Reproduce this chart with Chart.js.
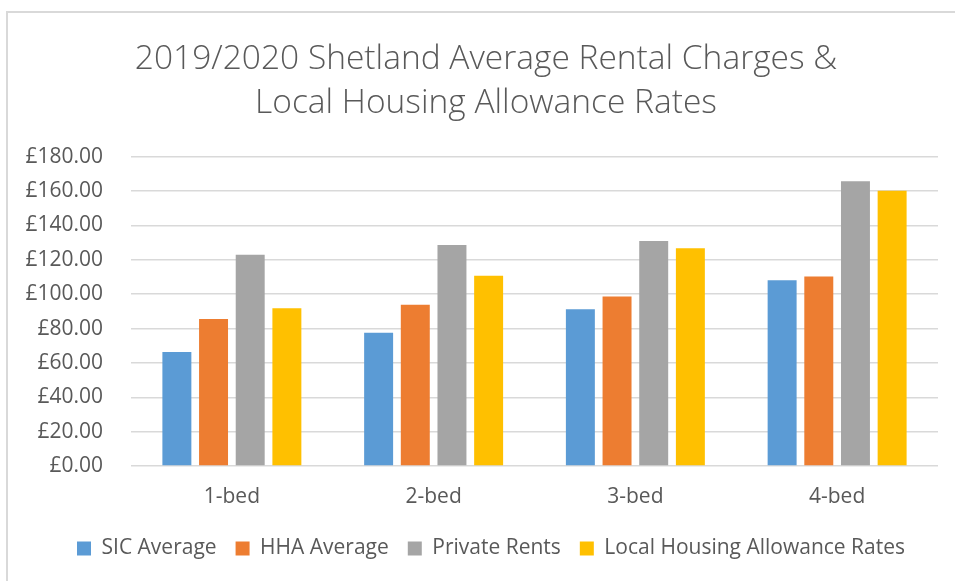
<!DOCTYPE html>
<html>
<head>
<meta charset="utf-8">
<script src="https://cdn.jsdelivr.net/npm/chart.js@4"></script>
<style>
  html, body { margin: 0; padding: 0; background: #fff; overflow: hidden; }
  #frame { position: absolute; left: 6px; top: 11px; width: 980px; height: 600px; border: 2px solid #d9d9d9; }
  #myChart { position: absolute; left: 0; top: 0; }
</style>
</head>
<body>
<div id="frame"></div>
<canvas id="myChart" width="955" height="581"></canvas>
<script>
var categories = ['1-bed', '2-bed', '3-bed', '4-bed'];
var sicAverage = [66.4, 77.5, 91.3, 108.1];
var hhaAverage = [85.6, 93.8, 98.6, 110.3];
var privateRents = [122.9, 128.7, 131.0, 165.8];
var lhaRates = [91.8, 110.7, 126.8, 160.2];
var yTicks = [0, 20, 40, 60, 80, 100, 120, 140, 160, 180];

var textColour = '#595959';
var fontName = '"Open Sans", "Noto Sans", sans-serif';

// title and legend sit centred on the whole frame, not the canvas, so nudge them right
var shiftBoxes = {
    id: 'shiftBoxes',
    afterLayout: function (chart) {
        chart.titleBlock.left += 17;
        chart.titleBlock.right += 17;
        chart.legend.left += 22;
        chart.legend.right += 22;
    }
};

var ctx = document.getElementById('myChart').getContext('2d');
var myChart = new Chart(ctx, {
    type: 'bar',
    data: {
        labels: categories,
        datasets: [{
            label: 'SIC Average',
            data: sicAverage,
            backgroundColor: '#5b9bd5'
        }, {
            label: 'HHA Average',
            data: hhaAverage,
            backgroundColor: '#ed7d31'
        }, {
            label: 'Private Rents',
            data: privateRents,
            backgroundColor: '#a5a5a5'
        }, {
            label: 'Local Housing Allowance Rates',
            data: lhaRates,
            backgroundColor: '#ffc000'
        }]
    },
    options: {
        responsive: false,
        animation: false,
        barPercentage: 0.79,
        categoryPercentage: 0.727,
        layout: {
            padding: { left: 0, right: 17, top: 0, bottom: 12 }
        },
        plugins: {
            title: {
                display: true,
                text: ['2019/2020 Shetland Average Rental Charges &', 'Local Housing Allowance Rates'],
                color: textColour,
                font: { family: fontName, size: 33.5, weight: '300', lineHeight: 1.31 },
                padding: { top: 38, bottom: 31 }
            },
            legend: {
                position: 'bottom',
                labels: {
                    color: textColour,
                    font: { family: fontName, size: 21 },
                    boxWidth: 14,
                    boxHeight: 14,
                    padding: 19
                }
            },
            tooltip: { enabled: false }
        },
        scales: {
            x: {
                grid: { display: false },
                border: { display: false },
                ticks: {
                    color: textColour,
                    font: { family: fontName, size: 21 },
                    padding: 10
                },
                afterFit: function (scale) {
                    scale.height = 53;
                }
            },
            y: {
                min: 0,
                max: 180,
                afterBuildTicks: function (scale) {
                    scale.ticks = yTicks.map(function (v) { return { value: v }; });
                },
                grid: { color: '#d9d9d9', lineWidth: 1.5, drawTicks: false },
                border: { display: false },
                ticks: {
                    color: textColour,
                    font: { family: fontName, size: 21 },
                    padding: 28,
                    callback: function (value) {
                        return '£' + value.toFixed(2);
                    }
                },
                afterFit: function (scale) {
                    scale.width = 131;
                }
            }
        }
    },
    plugins: [shiftBoxes]
});
</script>
</body>
</html>
